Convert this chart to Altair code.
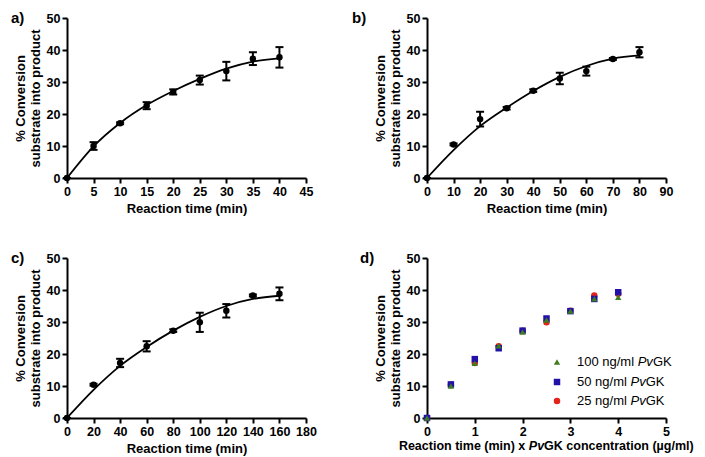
import altair as alt
import pandas as pd

# ---------------- data ----------------
# panel a: 100 ng/ml PvGK
a_time = [0, 5, 10, 15, 20, 25, 30, 35, 40]
a_conv = [0, 10.0, 17.1, 22.6, 26.9, 30.6, 33.4, 37.3, 37.7]
a_err = [0, 1.2, 0.3, 1.1, 0.8, 1.4, 2.9, 2.0, 3.2]
a_fit_t = [0, 5, 10, 15, 20, 25, 30, 35, 40]
a_fit_y = [0, 9.9, 17.2, 22.8, 27.2, 31.0, 34.2, 36.4, 37.4]

# panel b: 50 ng/ml PvGK
b_time = [0, 10, 20, 30, 40, 50, 60, 70, 80]
b_conv = [0, 10.5, 18.4, 21.8, 27.3, 31.1, 33.4, 37.2, 39.3]
b_err = [0, 0.3, 2.3, 0.4, 0.4, 1.8, 1.4, 0.3, 1.6]
b_fit_t = [0, 10, 20, 30, 40, 50, 60, 70, 80]
b_fit_y = [0, 8.7, 16.2, 22.0, 27.2, 31.6, 35.0, 37.3, 38.3]

# panel c: 25 ng/ml PvGK
c_time = [0, 20, 40, 60, 80, 100, 120, 140, 160]
c_conv = [0, 10.4, 17.2, 22.4, 27.3, 29.9, 33.5, 38.3, 38.8]
c_err = [0, 0.3, 1.3, 1.6, 0.4, 3.0, 2.1, 0.3, 2.0]
c_fit_t = [0, 20, 40, 60, 80, 100, 120, 140, 160]
c_fit_y = [0, 8.8, 16.3, 22.2, 27.3, 31.6, 35.0, 37.2, 38.2]

# panel d: enzyme concentrations (ug/ml) and legend names
conc_ugml = [0.1, 0.05, 0.025]
series_names = ["100 ng/ml", "50 ng/ml", "25 ng/ml"]
series_colors = ["#3c7d1e", "#2111a8", "#e2231a"]
series_shapes = ["triangle-up", "square", "circle"]

y_ticks = [0, 10, 20, 30, 40, 50]
y_title = ["% Conversion", "substrate into product"]
x_title = "Reaction time (min)"

W, H = 239, 160
FONT = "Liberation Sans"


def text_at(txt, x, y, size=13, weight="normal", style="normal", align="left", baseline="middle"):
    return alt.Chart(pd.DataFrame({"v": [0]})).mark_text(
        text=txt, font=FONT, fontSize=size, fontWeight=weight, fontStyle=style,
        align=align, baseline=baseline, color="black"
    ).encode(x=alt.value(x), y=alt.value(y))


def yenc(field):
    return alt.Y(field, scale=alt.Scale(domain=[0, 50], nice=False),
                 axis=alt.Axis(values=y_ticks), title=y_title)


def xenc(field, xmax, step, title):
    return alt.X(field, scale=alt.Scale(domain=[0, xmax], nice=False),
                 axis=alt.Axis(values=list(range(0, xmax + 1, step)), labelOverlap=False),
                 title=title)


def fit_panel(times, conv, err, fit_t, fit_y, xmax, step, letter, letter_dx):
    df = pd.DataFrame({"t": times, "y": conv, "e": err})
    df["lo"] = df["y"] - df["e"]
    df["hi"] = df["y"] + df["e"]
    fdf = pd.DataFrame({"t": fit_t, "y": fit_y})
    X = lambda: xenc("t:Q", xmax, step, x_title)
    rule = alt.Chart(df).mark_rule(color="black", strokeWidth=2).encode(
        x=X(), y=yenc("lo:Q"), y2="hi:Q")
    cap_lo = alt.Chart(df).mark_tick(color="black", orient="horizontal", size=8, thickness=2,
                                     opacity=1).encode(x=X(), y=yenc("lo:Q"))
    cap_hi = alt.Chart(df).mark_tick(color="black", orient="horizontal", size=8, thickness=2,
                                     opacity=1).encode(x=X(), y=yenc("hi:Q"))
    line = alt.Chart(fdf).mark_line(color="black", strokeWidth=1.8, interpolate="monotone").encode(
        x=X(), y=yenc("y:Q"))
    pts = alt.Chart(df).mark_circle(color="black", size=42, opacity=1).encode(
        x=X(), y=yenc("y:Q"))
    lab = text_at(letter, letter_dx, -7, size=15, weight="bold", baseline="top")
    return alt.layer(rule, cap_lo, cap_hi, line, pts, lab).properties(width=W, height=H)


pa = fit_panel(a_time, a_conv, a_err, a_fit_t, a_fit_y, 45, 5, "a)", -56)
pb = fit_panel(b_time, b_conv, b_err, b_fit_t, b_fit_y, 90, 10, "b)", -75)
pc = fit_panel(c_time, c_conv, c_err, c_fit_t, c_fit_y, 180, 20, "c)", -56)

# ---------------- panel d ----------------
d_sets = [(a_time, a_conv), (b_time, b_conv), (c_time, c_conv)]
d_layers = []
sizes = {"triangle-up": 40, "square": 42, "circle": 42}
# draw order: red (25), blue (50), green (100) on top
for i in [2, 1, 0]:
    t, y = d_sets[i]
    ddf = pd.DataFrame({"x": [tt * conc_ugml[i] for tt in t], "y": y})
    d_layers.append(
        alt.Chart(ddf).mark_point(filled=True, opacity=1, shape=series_shapes[i],
                                  size=sizes[series_shapes[i]], color=series_colors[i]).encode(
            x=alt.X("x:Q", scale=alt.Scale(domain=[0, 5], nice=False),
                    axis=alt.Axis(values=[0, 1, 2, 3, 4, 5]), title=None),
            y=yenc("y:Q"))
    )

# legend (manual, to allow italic "Pv")
leg_y = [104, 124, 143]
for i in range(3):
    d_layers.append(
        alt.Chart(pd.DataFrame({"v": [0]})).mark_point(
            filled=True, opacity=1, shape=series_shapes[i], size=sizes[series_shapes[i]],
            color=series_colors[i]).encode(x=alt.value(130), y=alt.value(leg_y[i])))
    w1 = 60.7 if i == 0 else 53.5
    d_layers.append(text_at(series_names[i], 150, leg_y[i], size=13))
    d_layers.append(text_at("Pv", 150 + w1, leg_y[i], size=13, style="italic"))
    d_layers.append(text_at("GK", 150 + w1 + 15.2, leg_y[i], size=13))

# manual x-axis title with italic "Pv"
ty = H + 28
pv_left = 101.8
d_layers.append(text_at("Reaction time (min) x", pv_left - 3.5, ty, size=12.5, weight="bold", align="right"))
d_layers.append(text_at("Pv", pv_left, ty, size=12.5, weight="bold", style="italic"))
d_layers.append(text_at("GK concentration (µg/ml)", pv_left + 15.3, ty, size=12.5, weight="bold"))
d_layers.append(text_at("d)", -67, -7, size=15, weight="bold", baseline="top"))

pd_ = alt.layer(*d_layers).properties(width=W, height=H)

chart = alt.concat(pa, pb, pc, pd_, columns=2, spacing={"row": 80, "column": 121},
                   bounds="flush").properties(
    padding={"left": 3, "top": 3, "right": 0, "bottom": 0}
).configure_view(stroke=None).configure_axis(
    labelFont=FONT, labelFontWeight="bold", labelFontSize=12.5, labelColor="black",
    titleFont=FONT, titleFontWeight="bold", titleFontSize=13, titleColor="black",
    domainColor="black", domainWidth=2, tickColor="black", tickWidth=2, tickSize=5,
    labelPadding=2, grid=False, titleLineHeight=15, labelFlush=False
).configure_axisX(titlePadding=5).configure_axisY(titlePadding=4)

chart.save("out.html", embed_options={"renderer": "svg", "actions": False})
